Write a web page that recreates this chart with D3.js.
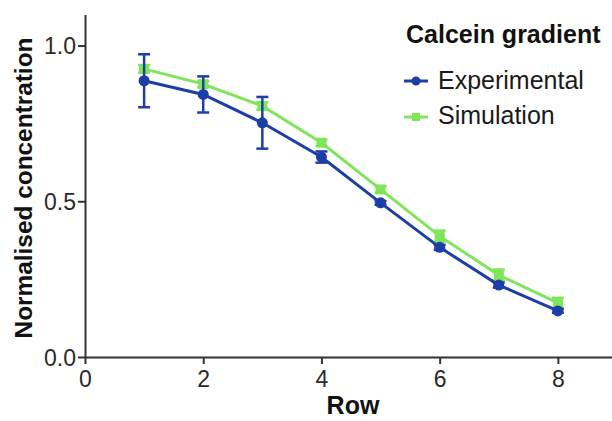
<!DOCTYPE html>
<html>
<head>
<meta charset="utf-8">
<script src="https://cdn.jsdelivr.net/npm/d3@7"></script>
<style>
  body { margin: 0; background: #fff; }
  svg { display: block; font-family: "Liberation Sans", Arial, sans-serif; }
</style>
</head>
<body>
<svg id="chart" width="612" height="421"></svg>
<script>
// Data
const rows = [1, 2, 3, 4, 5, 6, 7, 8];
const experimental = [0.887, 0.843, 0.752, 0.642, 0.495, 0.352, 0.231, 0.148];
const experimentalErr = [0.085, 0.058, 0.083, 0.018, 0.006, 0.008, 0.008, 0.006];
const simulation = [0.925, 0.876, 0.806, 0.688, 0.538, 0.388, 0.263, 0.174];
const simulationErr = [0.012, 0.010, 0.012, 0.010, 0.010, 0.018, 0.018, 0.016];
const xTicks = [0, 2, 4, 6, 8];
const yTicks = [0.0, 0.5, 1.0];

const blue = '#1c3ea6';
const green = '#7fe55b';
const axisColor = '#333';

const svg = d3.select('#chart');

// Scales
const x = d3.scaleLinear().domain([0, 9]).range([85, 617]);
const y = d3.scaleLinear().domain([0, 1.1]).range([357, 14.4]);

// Axes
const xAxis = svg.append('g')
    .attr('transform', `translate(0,${y(0)})`)
    .call(d3.axisBottom(x).tickValues(xTicks).tickSize(7).tickSizeOuter(0).tickFormat(d3.format('d')));
const yAxis = svg.append('g')
    .attr('transform', `translate(${x(0)},0)`)
    .call(d3.axisLeft(y).tickValues(yTicks).tickSize(7).tickSizeOuter(0).tickFormat(d3.format('.1f')));

[xAxis, yAxis].forEach(a => {
    a.select('.domain').attr('stroke', axisColor).attr('stroke-width', 2);
    a.selectAll('.tick line').attr('stroke', axisColor).attr('stroke-width', 2);
    a.selectAll('.tick text')
        .attr('fill', '#2a2a2a')
        .attr('font-size', 23)
        .attr('font-family', '"Liberation Sans", Arial, sans-serif');
});
xAxis.selectAll('.tick text').attr('y', 30).attr('dy', 0);
yAxis.selectAll('.tick text').attr('x', -9).attr('dy', '0.36em');

// Axis titles
svg.append('text')
    .attr('x', 353).attr('y', 414)
    .attr('text-anchor', 'middle')
    .attr('font-size', 25).attr('font-weight', 'bold')
    .attr('fill', '#111')
    .text('Row');

svg.append('text')
    .attr('transform', `translate(32,${188}) rotate(-90)`)
    .attr('text-anchor', 'middle')
    .attr('font-size', 24.4).attr('font-weight', 'bold')
    .attr('fill', '#111')
    .text('Normalised concentration');

// Series
const line = d3.line().x(d => x(d[0])).y(d => y(d[1]));

function drawSeries(values, errs, color, shape) {
    const pts = rows.map((r, i) => [r, values[i], errs[i]]);
    const g = svg.append('g');

    // error bars
    pts.forEach(p => {
        const top = y(p[1] + p[2]);
        const bot = y(p[1] - p[2]);
        const cx = x(p[0]);
        g.append('line').attr('x1', cx).attr('x2', cx).attr('y1', top).attr('y2', bot)
            .attr('stroke', color).attr('stroke-width', 2.5);
        [top, bot].forEach(yy => {
            g.append('line').attr('x1', cx - 6).attr('x2', cx + 6).attr('y1', yy).attr('y2', yy)
                .attr('stroke', color).attr('stroke-width', 2.5);
        });
    });

    g.append('path')
        .datum(pts)
        .attr('d', line)
        .attr('fill', 'none')
        .attr('stroke', color)
        .attr('stroke-width', 3);

    pts.forEach(p => {
        if (shape === 'circle') {
            g.append('circle').attr('cx', x(p[0])).attr('cy', y(p[1])).attr('r', 5.5).attr('fill', color);
        } else {
            g.append('rect').attr('x', x(p[0]) - 5).attr('y', y(p[1]) - 5)
                .attr('width', 10).attr('height', 10).attr('fill', color);
        }
    });
}

drawSeries(simulation, simulationErr, green, 'square');
drawSeries(experimental, experimentalErr, blue, 'circle');

// Legend
const legend = svg.append('g');
legend.append('text')
    .attr('x', 406).attr('y', 43)
    .attr('font-size', 25).attr('font-weight', 'bold').attr('fill', '#111')
    .text('Calcein gradient');

const legendItems = [
    { name: 'Experimental', color: blue, shape: 'circle', y: 81, base: 89 },
    { name: 'Simulation', color: green, shape: 'square', y: 117, base: 124 }
];
legendItems.forEach(it => {
    legend.append('line').attr('x1', 404).attr('x2', 428).attr('y1', it.y).attr('y2', it.y)
        .attr('stroke', it.color).attr('stroke-width', 3);
    if (it.shape === 'circle') {
        legend.append('circle').attr('cx', 416).attr('cy', it.y).attr('r', 4.5).attr('fill', it.color);
    } else {
        legend.append('rect').attr('x', 412).attr('y', it.y - 4).attr('width', 8).attr('height', 8).attr('fill', it.color);
    }
    legend.append('text')
        .attr('x', 438).attr('y', it.base)
        .attr('font-size', 25).attr('fill', '#1a1a1a')
        .text(it.name);
});
</script>
</body>
</html>
